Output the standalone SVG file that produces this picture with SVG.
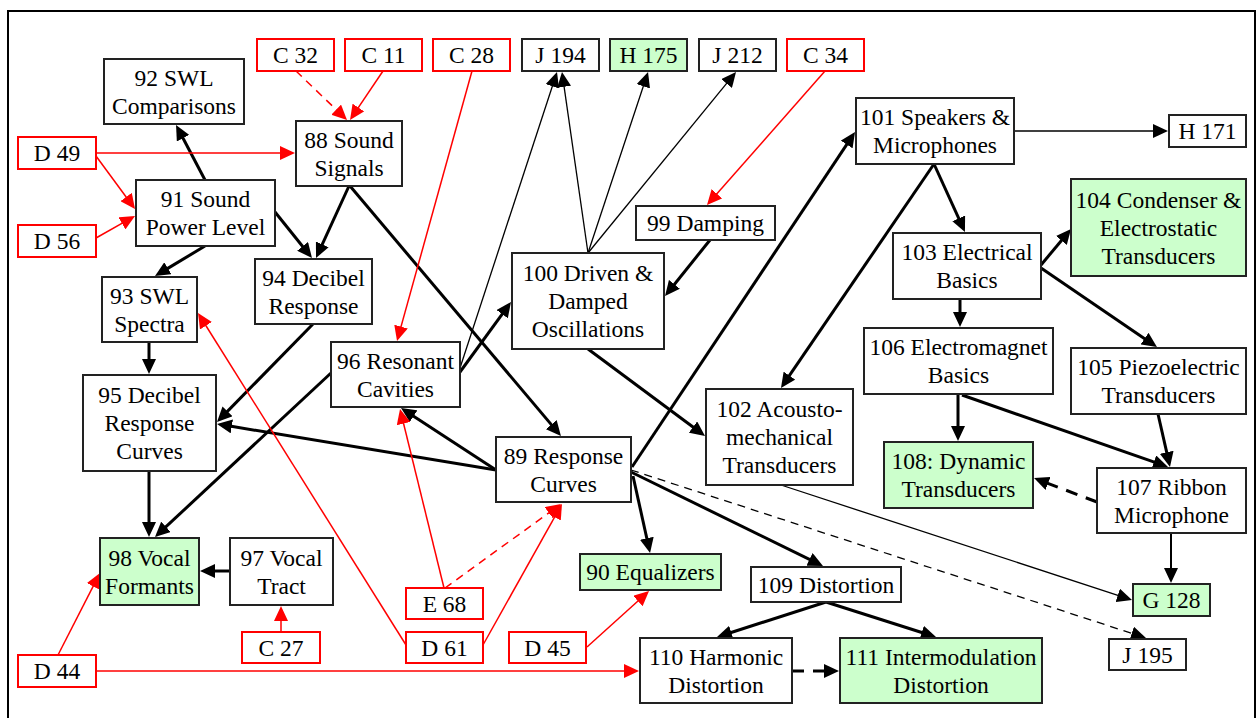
<svg xmlns="http://www.w3.org/2000/svg" width="1256" height="718" viewBox="0 0 1256 718">
  <defs>
    <style>
      .box { fill: #ffffff; stroke: #222222; stroke-width: 2; }
      .box.green { fill: #ccffcc; }
      .box.ref { stroke: #ff0000; }
      text { font-family: "Liberation Serif", "Times New Roman", serif; font-size: 23.5px; fill: #000000; text-anchor: middle; }
      .e { fill: none; stroke: #000000; }
      .thick { stroke-width: 3; marker-end: url(#ah); }
      .mid { stroke-width: 2; marker-end: url(#ah); }
      .thin { stroke-width: 1.3; marker-end: url(#ah); }
      .red { stroke: #ff0000; stroke-width: 1.5; marker-end: url(#ar); }
      .dash { stroke-dasharray: 8 6; }
      .dashbold { stroke-dasharray: 12 9; }
    </style>
    <marker id="ah" markerUnits="userSpaceOnUse" markerWidth="16" markerHeight="14" refX="5" refY="7" orient="auto">
      <path d="M0,0 L15,7 L0,14 z" fill="#000000"/>
    </marker>
    <marker id="ar" markerUnits="userSpaceOnUse" markerWidth="16" markerHeight="14" refX="5" refY="7" orient="auto">
      <path d="M0,0 L15,7 L0,14 z" fill="#ff0000"/>
    </marker>
  </defs>

  <rect x="0" y="0" width="1256" height="718" fill="#ffffff"/>
  <!-- page frame -->
  <rect x="8" y="11" width="1247" height="730" fill="none" stroke="#000000" stroke-width="2"/>

  <g id="connectors">
    <!-- black chapter links -->
    <line class="e thick" x1="205" y1="180" x2="180.7" y2="133.8"/>
    <line class="e thick" x1="275" y1="212" x2="305.7" y2="250.2"/>
    <line class="e thick" x1="349" y1="186" x2="320.2" y2="248.9"/>
    <line class="e thick" x1="350" y1="186" x2="554.5" y2="428.4"/>
    <line class="e thick" x1="205" y1="246" x2="163.6" y2="270.9"/>
    <line class="e thick" x1="149" y1="342" x2="149" y2="364"/>
    <line class="e thick" x1="313" y1="324" x2="224" y2="414.9"/>
    <line class="e thick" x1="496" y1="470" x2="226.9" y2="425.6"/>
    <line class="e thick" x1="331" y1="373" x2="162.3" y2="530.2"/>
    <line class="e thick" x1="149" y1="471" x2="149" y2="527"/>
    <line class="e thick" x1="230" y1="571" x2="210" y2="571"/>
    <line class="e thick" x1="496" y1="470" x2="409.4" y2="413.5"/>
    <line class="e thick" x1="460" y1="372" x2="505.1" y2="310.1"/>
    <line class="e thin" x1="460" y1="368" x2="553.9" y2="81.5"/>
    <line class="e thin" x1="588" y1="253" x2="563.4" y2="81.9"/>
    <line class="e thin" x1="588" y1="253" x2="644.9" y2="81.5"/>
    <line class="e thin" x1="588" y1="253" x2="729.7" y2="79.7"/>
    <line class="e thick" x1="710" y1="240" x2="671.3" y2="288.2"/>
    <line class="e thick" x1="588" y1="349" x2="697" y2="430"/>
    <line class="e thick" x1="632" y1="467" x2="849.5" y2="140.3"/>
    <line class="e thick" x1="934" y1="164" x2="786.6" y2="379.7"/>
    <line class="e thick" x1="934" y1="164" x2="960.8" y2="222.9"/>
    <line class="e thin" x1="1014" y1="131" x2="1158" y2="131" style="stroke-width:1.6"/>
    <line class="e thick" x1="1041" y1="265" x2="1064.6" y2="236.7"/>
    <line class="e thick" x1="1041" y1="268" x2="1148.7" y2="341.4"/>
    <line class="e thick" x1="960" y1="299" x2="960" y2="317"/>
    <line class="e thick" x1="958" y1="394" x2="958" y2="431"/>
    <line class="e thick" x1="962" y1="395" x2="1158.6" y2="463.7"/>
    <line class="e thick" x1="1158" y1="414" x2="1167.8" y2="457.2"/>
    <line class="e thick dashbold" x1="1097" y1="502" x2="1043.4" y2="481.6"/>
    <line class="e mid" x1="1171" y1="533" x2="1171" y2="573"/>
    <line class="e thin" x1="781" y1="485" x2="1122.5" y2="596.9"/>
    <line class="e thin dash" x1="631" y1="470" x2="1136.5" y2="634.9"/>
    <line class="e thick" x1="631" y1="472" x2="814" y2="561.6"/>
    <line class="e thick" x1="633" y1="476" x2="647.9" y2="543.2"/>
    <line class="e thick" x1="826" y1="602" x2="726.5" y2="634"/>
    <line class="e thick" x1="826" y1="602" x2="926.5" y2="634"/>
    <line class="e thick dashbold" x1="792" y1="671" x2="829" y2="671"/>

    <!-- red cross-references -->
    <line class="e red dash" x1="296" y1="71" x2="339.8" y2="113.1"/>
    <line class="e red" x1="383" y1="71" x2="355.6" y2="111.7"/>
    <line class="e red" x1="96" y1="153" x2="285" y2="153"/>
    <line class="e red" x1="96" y1="156" x2="129.1" y2="201"/>
    <line class="e red" x1="96" y1="238" x2="126.3" y2="220.9"/>
    <line class="e red" x1="472" y1="71" x2="399.7" y2="331.4"/>
    <line class="e red" x1="825" y1="71" x2="713.6" y2="197.5"/>
    <line class="e red" x1="406" y1="645" x2="203.3" y2="321.5"/>
    <line class="e red" x1="483" y1="645" x2="557.1" y2="512.7"/>
    <line class="e red" x1="444" y1="588" x2="402.4" y2="418.7"/>
    <line class="e red dash" x1="445" y1="588" x2="552.9" y2="509.9"/>
    <line class="e red" x1="587" y1="647" x2="641.6" y2="597.7"/>
    <line class="e red" x1="58" y1="655" x2="95.4" y2="581.9"/>
    <line class="e red" x1="281" y1="632" x2="281" y2="616"/>
    <line class="e red" x1="96" y1="671" x2="629" y2="671"/>
  </g>

  <!-- chapter nodes -->
  <g id="n92"><rect class="box" x="104" y="59" width="140" height="65"/><text x="174" y="85.5">92 SWL</text><text x="174" y="113.5">Comparisons</text></g>
  <g id="n88"><rect class="box" x="296" y="121" width="106" height="65"/><text x="349" y="147.5">88 Sound</text><text x="349" y="175.5">Signals</text></g>
  <g id="n91"><rect class="box" x="136" y="180" width="139" height="66"/><text x="205.5" y="207">91 Sound</text><text x="205.5" y="235">Power Level</text></g>
  <g id="n93"><rect class="box" x="102" y="277" width="95" height="65"/><text x="149.5" y="303.5">93 SWL</text><text x="149.5" y="331.5">Spectra</text></g>
  <g id="n94"><rect class="box" x="255" y="259" width="117" height="65"/><text x="313.5" y="285.5">94 Decibel</text><text x="313.5" y="313.5">Response</text></g>
  <g id="n95"><rect class="box" x="83" y="375" width="133" height="96"/><text x="149.5" y="403">95 Decibel</text><text x="149.5" y="431">Response</text><text x="149.5" y="459">Curves</text></g>
  <g id="n96"><rect class="box" x="331" y="342" width="129" height="65"/><text x="395.5" y="368.5">96 Resonant</text><text x="395.5" y="396.5">Cavities</text></g>
  <g id="n97"><rect class="box" x="230" y="538" width="103" height="67"/><text x="281.5" y="565.5">97 Vocal</text><text x="281.5" y="593.5">Tract</text></g>
  <g id="n98"><rect class="box green" x="100" y="538" width="99" height="67"/><text x="149.5" y="565.5">98 Vocal</text><text x="149.5" y="593.5">Formants</text></g>
  <g id="n99"><rect class="box" x="636" y="206" width="139" height="34"/><text x="705.5" y="231">99 Damping</text></g>
  <g id="n100"><rect class="box" x="512" y="253" width="152" height="96"/><text x="588" y="281">100 Driven &amp;</text><text x="588" y="309">Damped</text><text x="588" y="337">Oscillations</text></g>
  <g id="n89"><rect class="box" x="496" y="437" width="135" height="65"/><text x="563.5" y="463.5">89 Response</text><text x="563.5" y="491.5">Curves</text></g>
  <g id="n90"><rect class="box green" x="580" y="554" width="141" height="36"/><text x="650.5" y="580">90 Equalizers</text></g>
  <g id="n101"><rect class="box" x="856" y="98" width="158" height="66"/><text x="935" y="125">101 Speakers &amp;</text><text x="935" y="153">Microphones</text></g>
  <g id="n102"><rect class="box" x="706" y="389" width="147" height="96"/><text x="779.5" y="417">102 Acousto-</text><text x="779.5" y="445">mechanical</text><text x="779.5" y="473">Transducers</text></g>
  <g id="n103"><rect class="box" x="893" y="233" width="148" height="66"/><text x="967" y="260">103 Electrical</text><text x="967" y="288">Basics</text></g>
  <g id="n104"><rect class="box green" x="1071" y="179" width="175" height="97"/><text x="1158.5" y="207.5">104 Condenser &amp;</text><text x="1158.5" y="235.5">Electrostatic</text><text x="1158.5" y="263.5">Transducers</text></g>
  <g id="n105"><rect class="box" x="1071" y="348" width="175" height="66"/><text x="1158.5" y="375">105 Piezoelectric</text><text x="1158.5" y="403">Transducers</text></g>
  <g id="n106"><rect class="box" x="864" y="328" width="189" height="66"/><text x="958.5" y="355">106 Electromagnet</text><text x="958.5" y="383">Basics</text></g>
  <g id="n107"><rect class="box" x="1097" y="468" width="149" height="65"/><text x="1171.5" y="494.5">107 Ribbon</text><text x="1171.5" y="522.5">Microphone</text></g>
  <g id="n108"><rect class="box green" x="884" y="442" width="149" height="66"/><text x="958.5" y="469">108: Dynamic</text><text x="958.5" y="497">Transducers</text></g>
  <g id="n109"><rect class="box" x="751" y="567" width="150" height="35"/><text x="826" y="592.5">109 Distortion</text></g>
  <g id="n110"><rect class="box" x="640" y="638" width="152" height="65"/><text x="716" y="664.5">110 Harmonic</text><text x="716" y="692.5">Distortion</text></g>
  <g id="n111"><rect class="box green" x="840" y="638" width="202" height="65"/><text x="941" y="664.5">111 Intermodulation</text><text x="941" y="692.5">Distortion</text></g>

  <!-- external references -->
  <g id="rC32"><rect class="box ref" x="257" y="39" width="77" height="32"/><text x="295.5" y="63">C 32</text></g>
  <g id="rC11"><rect class="box ref" x="345" y="39" width="77" height="32"/><text x="383.5" y="63">C 11</text></g>
  <g id="rC28"><rect class="box ref" x="433" y="39" width="77" height="32"/><text x="471.5" y="63">C 28</text></g>
  <g id="rJ194"><rect class="box" x="522" y="39" width="77" height="32"/><text x="560.5" y="63">J 194</text></g>
  <g id="rH175"><rect class="box green" x="610" y="39" width="77" height="32"/><text x="648.5" y="63">H 175</text></g>
  <g id="rJ212"><rect class="box" x="699" y="39" width="77" height="32"/><text x="737.5" y="63">J 212</text></g>
  <g id="rC34"><rect class="box ref" x="787" y="39" width="77" height="32"/><text x="825.5" y="63">C 34</text></g>
  <g id="rD49"><rect class="box ref" x="18" y="137" width="78" height="32"/><text x="57" y="161">D 49</text></g>
  <g id="rD56"><rect class="box ref" x="18" y="225" width="78" height="32"/><text x="57" y="249">D 56</text></g>
  <g id="rH171"><rect class="box" x="1169" y="115" width="77" height="32"/><text x="1207.5" y="139">H 171</text></g>
  <g id="rG128"><rect class="box green" x="1133" y="584" width="77" height="32"/><text x="1171.5" y="608">G 128</text></g>
  <g id="rJ195"><rect class="box" x="1109" y="639" width="77" height="31"/><text x="1147.5" y="662.5">J 195</text></g>
  <g id="rE68"><rect class="box ref" x="406" y="588" width="77" height="31"/><text x="444.5" y="611.5">E 68</text></g>
  <g id="rD61"><rect class="box ref" x="406" y="632" width="77" height="31"/><text x="444.5" y="655.5">D 61</text></g>
  <g id="rD45"><rect class="box ref" x="509" y="632" width="77" height="31"/><text x="547.5" y="655.5">D 45</text></g>
  <g id="rC27"><rect class="box ref" x="242" y="632" width="78" height="31"/><text x="281" y="655.5">C 27</text></g>
  <g id="rD44"><rect class="box ref" x="18" y="655" width="78" height="32"/><text x="57" y="679">D 44</text></g>
</svg>
